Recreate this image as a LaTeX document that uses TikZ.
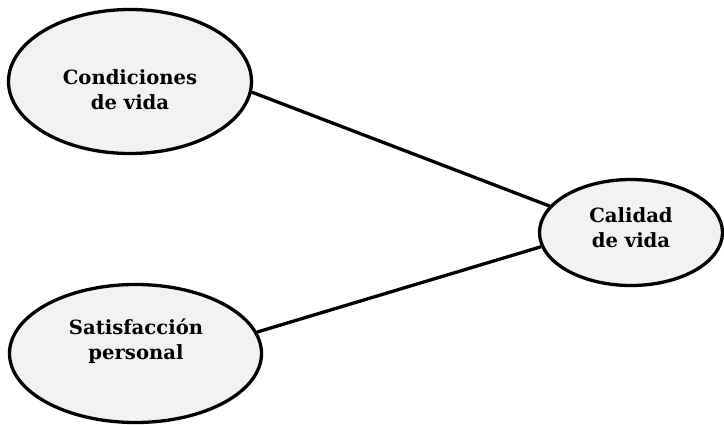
\documentclass[tikz,border=0pt]{standalone}
\usepackage{fontspec}
\setmainfont{DejaVu Serif}
\usetikzlibrary{shapes.geometric}
\definecolor{bubblefill}{HTML}{F2F2F2}
\begin{document}
\begin{tikzpicture}[x=1pt,y=-1pt,
  bubble/.style={ellipse, draw=black, line width=3.3pt, fill=bubblefill, inner sep=0pt},
  caption/.style={font=\bfseries\fontsize{19.6}{25}\selectfont, align=center, inner sep=0pt},
  link/.style={line width=3.3pt}]
\useasboundingbox (0,0) rectangle (724,425);
% factor bubbles
\node[bubble, minimum width=243, minimum height=144] (cv) at (130,81.5) {};
\node[bubble, minimum width=252, minimum height=138] (sp) at (135.5,353.5) {};
\node[bubble, minimum width=183, minimum height=106] (cal) at (631,232.5) {};
% captions
\node[caption] (cvt) at (130,89.5) {Condiciones\\de vida};
\node[caption] (spt) at (136,341) {Satisfacción\\personal};
\node[caption] (calt) at (631,228) {Calidad\\de vida};
% links
\draw[link] (cv.-5) -- (cal.162);
\draw[link] (sp.10.75) -- (cal.-171);
\end{tikzpicture}
\end{document}
